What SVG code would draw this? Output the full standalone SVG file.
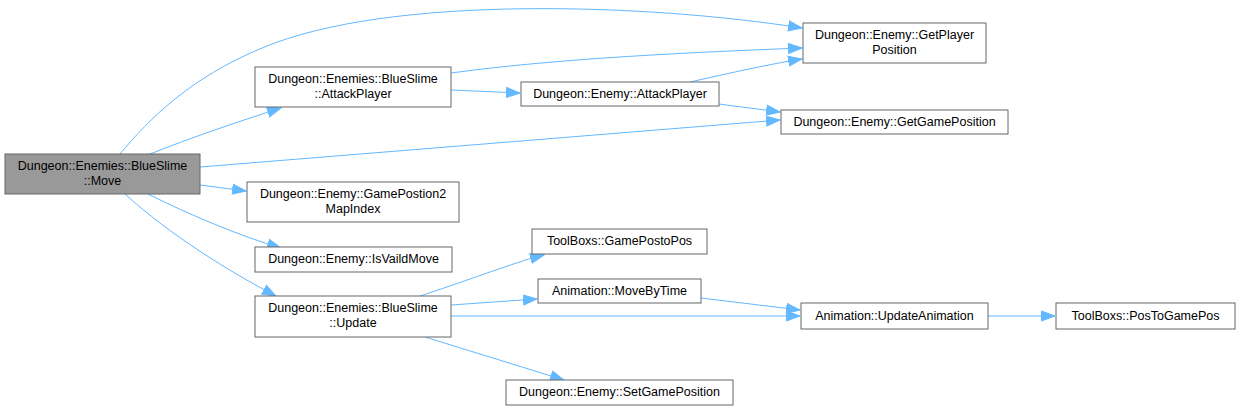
<svg xmlns="http://www.w3.org/2000/svg" width="1240" height="411" viewBox="0 0 1240 411">
<style>
.n{fill:#ffffff;stroke:#666666;stroke-width:1}
.h{fill:#999999;stroke:#666666;stroke-width:1}
.t{font-family:"Liberation Sans",Arial,sans-serif;font-size:12.5px;fill:#000000;text-anchor:middle}
.e{fill:none;stroke:#63b8ff;stroke-width:1;marker-end:url(#a)}
</style>
<defs>
<marker id="a" markerUnits="userSpaceOnUse" markerWidth="15" markerHeight="12" refX="14" refY="6" orient="auto">
<path d="M0.5,1 L14,6 L0.5,11 z" fill="#63b8ff" stroke="#63b8ff" stroke-width="1"/>
</marker>
</defs>
<rect width="1240" height="411" fill="#ffffff"/>
<g id="edges">
<path class="e" d="M120,154 C150,118 190,78 262,48 C390,-6 650,4 802,28"/>
<path class="e" d="M150,154 C190,138 240,121 281,108"/>
<path class="e" d="M200,167 L780,120"/>
<path class="e" d="M200,185 L246,191"/>
<path class="e" d="M148,194 C190,215 240,236 281,248"/>
<path class="e" d="M125,194 C170,235 230,272 276,296"/>
<path class="e" d="M451,73 C560,58 700,52 802,48"/>
<path class="e" d="M451,90 L520,93"/>
<path class="e" d="M690,82 C730,73 770,64 802,59"/>
<path class="e" d="M719,104 L780,112"/>
<path class="e" d="M420,296 C460,283 500,268 520,262 C533,257 540,256 544,255"/>
<path class="e" d="M451,305 L537,299"/>
<path class="e" d="M451,316 L800,316"/>
<path class="e" d="M425,337 L564,380"/>
<path class="e" d="M701,298 L800,310"/>
<path class="e" d="M988,316 L1055,316"/>
</g>
<g id="n_move"><rect class="h" x="5" y="154" width="195" height="40"/><text class="t" x="102.5" y="170">Dungeon::Enemies::BlueSlime</text><text class="t" x="102.5" y="185">::Move</text></g>
<g id="n_bs_attack"><rect class="n" x="255" y="67" width="196" height="40"/><text class="t" x="353" y="83">Dungeon::Enemies::BlueSlime</text><text class="t" x="353" y="98">::AttackPlayer</text></g>
<g id="n_enemy_attack"><rect class="n" x="521" y="82" width="198" height="24"/><text class="t" x="620" y="98">Dungeon::Enemy::AttackPlayer</text></g>
<g id="n_getplayerpos"><rect class="n" x="803" y="23" width="183" height="40"/><text class="t" x="894.5" y="39">Dungeon::Enemy::GetPlayer</text><text class="t" x="894.5" y="54">Position</text></g>
<g id="n_getgamepos"><rect class="n" x="781" y="110" width="227" height="24"/><text class="t" x="894.5" y="126">Dungeon::Enemy::GetGamePosition</text></g>
<g id="n_mapindex"><rect class="n" x="247" y="182" width="212" height="40"/><text class="t" x="353" y="198">Dungeon::Enemy::GamePostion2</text><text class="t" x="353" y="213">MapIndex</text></g>
<g id="n_isvalid"><rect class="n" x="255" y="247" width="197" height="25"/><text class="t" x="353.5" y="263">Dungeon::Enemy::IsVaildMove</text></g>
<g id="n_update"><rect class="n" x="255" y="296" width="196" height="41"/><text class="t" x="353" y="312">Dungeon::Enemies::BlueSlime</text><text class="t" x="353" y="327">::Update</text></g>
<g id="n_gameposto"><rect class="n" x="532" y="229" width="175" height="25"/><text class="t" x="619.5" y="245">ToolBoxs::GamePostoPos</text></g>
<g id="n_movebytime"><rect class="n" x="538" y="279" width="163" height="24"/><text class="t" x="619.5" y="295">Animation::MoveByTime</text></g>
<g id="n_setgamepos"><rect class="n" x="506" y="380" width="227" height="25"/><text class="t" x="619.5" y="396">Dungeon::Enemy::SetGamePosition</text></g>
<g id="n_updateanim"><rect class="n" x="801" y="303" width="187" height="26"/><text class="t" x="894.5" y="320">Animation::UpdateAnimation</text></g>
<g id="n_postogame"><rect class="n" x="1056" y="303" width="179" height="26"/><text class="t" x="1145.5" y="320">ToolBoxs::PosToGamePos</text></g>
</svg>
